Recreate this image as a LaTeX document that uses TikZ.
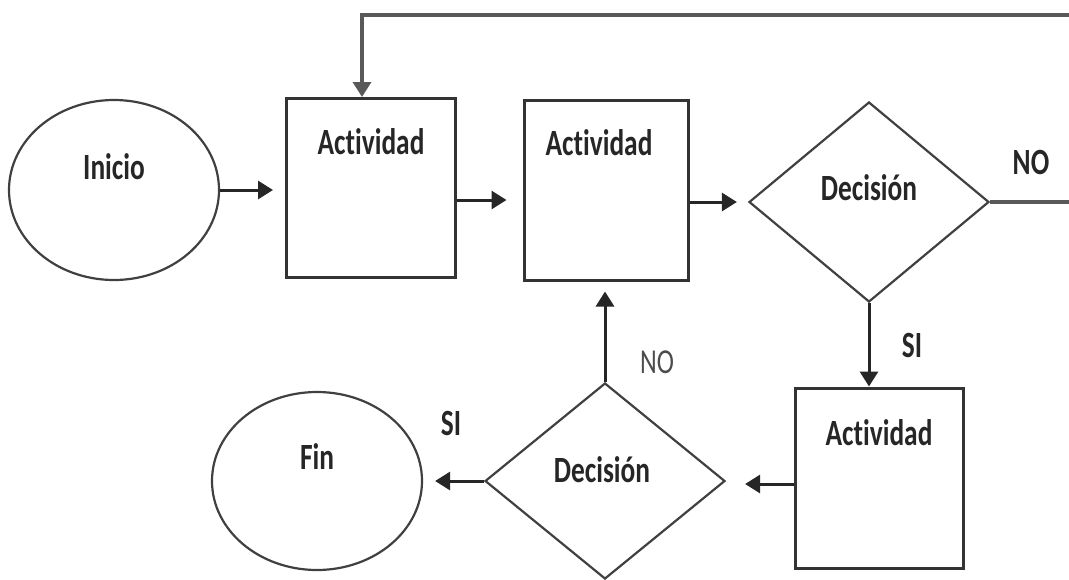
\documentclass[tikz,border=0pt]{standalone}
\usepackage{fontspec}
\setmainfont{Carlito}[Ligatures=NoCommon, FakeStretch=0.74]
\usepackage{tikz}
\usetikzlibrary{arrows.meta,shapes.geometric,positioning}

\tikzset{
	caja/.style={shape=rectangle, draw=black!80, line width=3pt, inner sep=0pt},
	terminal/.style={shape=ellipse, draw=black!75, line width=2.2pt, inner sep=0pt, minimum width=210pt, minimum height=180pt},
	rombo/.style={shape=diamond, draw=black!75, line width=2.2pt, inner sep=0pt, minimum width=240pt, minimum height=200pt},
	texto/.style={text=black!85, font=\bfseries\fontsize{37}{42}\selectfont},
	flecha/.style={draw=black!85, line width=3pt, -{Triangle[length=15pt,width=18pt]}}
}

\begin{document}
\begin{tikzpicture}[x=1pt,y=-1pt]
	\useasboundingbox (0,0) rectangle (1069,579);
	\path (114,190) node (inicio) [terminal] [label={[texto,yshift=23pt]center:Inicio}] {}
		  (371,188) node (caja1) [caja, minimum width=169pt, minimum height=179pt] [label={[texto,yshift=46pt]center:Actividad}] {}
		  (606,190) node (caja2) [caja, minimum width=164pt, minimum height=180pt] [label={[texto,yshift=47pt,xshift=-7pt]center:Actividad}] {}
		  (869,202) node (decision1) [rombo] [label={[texto,yshift=14pt]center:Decisión}] {}
		  (879,478) node (caja3) [caja, minimum width=168pt, minimum height=180pt] [label={[texto,yshift=45pt]center:Actividad}] {}
		  (605,481) node (decision2) [rombo, minimum height=196pt] [label={[texto,yshift=11pt,xshift=-3pt]center:Decisión}] {}
		  (317,481) node (fin) [terminal, minimum height=178pt] [label={[texto,yshift=24pt]center:Fin}] {};
	\path (1031,162) node (no1) [texto] {NO}
		  (912,345) node (si1) [texto] {SI}
		  (657,362) node (no2) [texto, font=\fontsize{35}{40}\selectfont, text=black!70] {NO}
		  (451,423) node (si2) [texto] {SI};
	\coordinate (retorno) at (1090,15);
	\draw[flecha, shorten >=12pt] (inicio.east) -- (inicio.east -| caja1.west);
	\draw[flecha, shorten >=16pt] ([yshift=-12pt]caja1.east) -- ([yshift=-12pt]caja1.east -| caja2.west);
	\draw[flecha, shorten >=11pt] (decision1.west -| caja2.east) -- (decision1.west);
	\draw[flecha] (decision1.south) -- (decision1.south |- caja3.north);
	\draw[flecha, shorten >=19pt] ([yshift=-6pt]caja3.west) -- ([yshift=-6pt]caja3.west -| decision2.east);
	\draw[flecha, shorten >=10pt] (decision2.north) -- (decision2.north |- caja2.south);
	\draw[flecha, shorten >=12pt] (decision2.west) -- (decision2.west -| fin.east);
	\draw[flecha, draw=black!65, line width=3.4pt] (decision1.east) -| (retorno) -| ([xshift=-9pt]caja1.north);
\end{tikzpicture}
\end{document}
